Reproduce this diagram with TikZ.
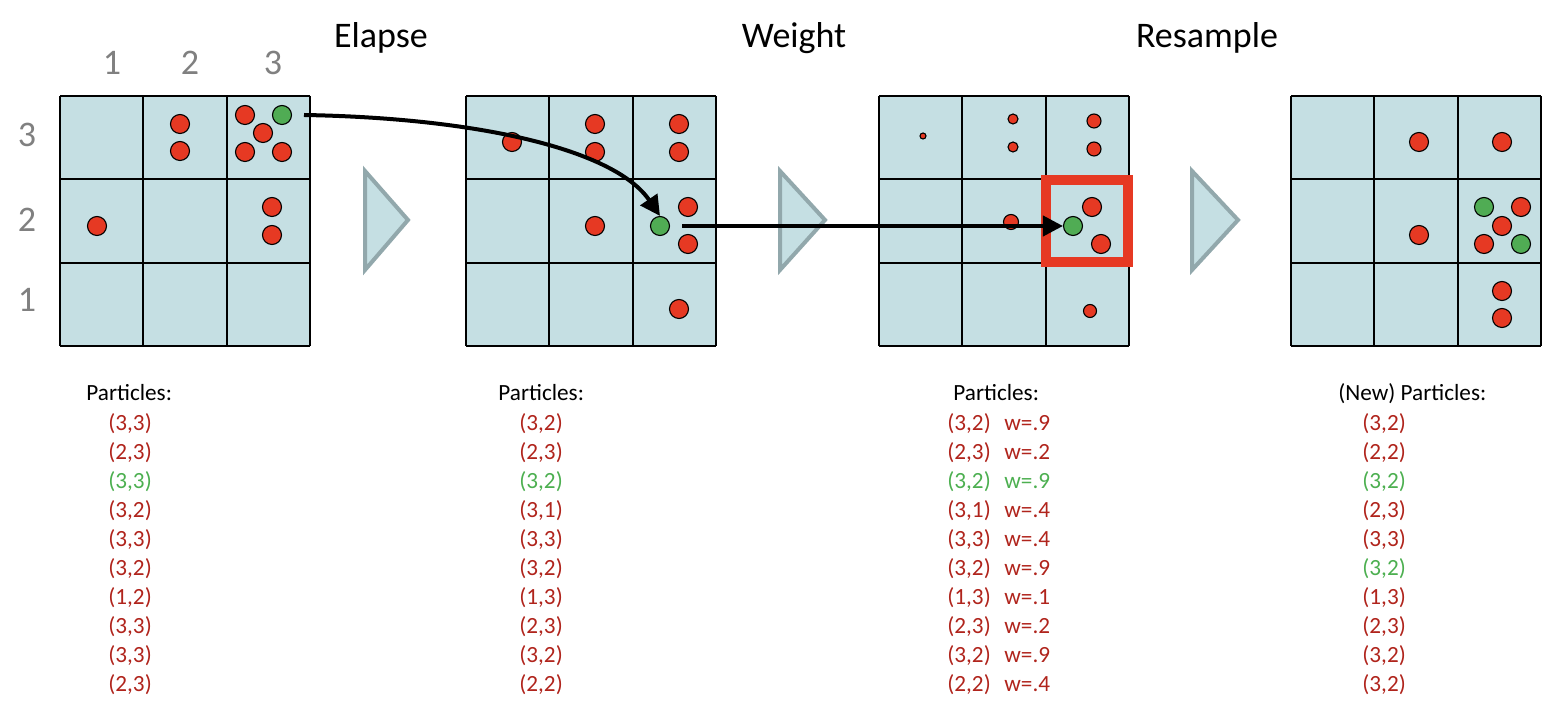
\documentclass[tikz,border=0pt]{standalone}
\usepackage{fontspec}
\setmainfont{Carlito}
\usetikzlibrary{arrows.meta}
\definecolor{cellfill}{RGB}{197,223,227}
\definecolor{pred}{RGB}{230,57,35}
\definecolor{pgreen}{RGB}{80,172,84}
\definecolor{tred}{RGB}{176,36,28}
\definecolor{tgreen}{RGB}{76,175,80}
\definecolor{tristroke}{RGB}{146,168,172}
\definecolor{lblgray}{RGB}{128,128,128}
\begin{document}
\begin{tikzpicture}[x=0.5pt,y=-0.5pt,
  cellline/.style={line width=0.95pt,draw=black},
  rp/.style={circle,draw=black,line width=0.55pt,fill=pred,inner sep=0pt,minimum size=#1},
  rp/.default=9.5pt,
  gp/.style={circle,draw=black,line width=0.55pt,fill=pgreen,inner sep=0pt,minimum size=9.5pt},
  tri/.style={fill=cellfill,draw=tristroke,line width=2pt,line join=miter},
  title/.style={font=\fontsize{18}{20}\selectfont,anchor=base},
  axlbl/.style={font=\fontsize{18}{20}\selectfont,text=lblgray,anchor=base},
  txt/.style={font=\fontsize{11.6}{13}\selectfont,anchor=base west,inner sep=0pt},
  move/.style={line width=2pt,-{Triangle[length=10pt,width=10pt]}},
]
\useasboundingbox (0,0) rectangle (1560,710);

% grids
\foreach \gx in {60,466,879,1291}{
  \fill[cellfill] (\gx,96) rectangle ++(250,250);
  \foreach \k in {0,1,2,3}{
    \draw[cellline] ({\gx+\k*250/3},96) -- ({\gx+\k*250/3},346);
    \draw[cellline] (\gx,{96+\k*250/3}) -- ({\gx+250},{96+\k*250/3});
  }
}

% axis labels
\node[axlbl] (c1) at (112,75) {1};
\node[axlbl] (c2) at (190,75) {2};
\node[axlbl] (c3) at (273,75) {3};
\node[axlbl] (r3) at (27,147) {3};
\node[axlbl] (r2) at (27,232) {2};
\node[axlbl] (r1) at (27,312) {1};

% titles
\node[title] (tElapse) at (381,48) {Elapse};
\node[title] (tWeight) at (794,48) {Weight};
\node[title] (tResample) at (1207,48) {Resample};

% grid 1 particles
\foreach \px/\py [count=\i] in {180/124,180/151,245/115,263/133,245/152,282/152,272/207,272/235,97/226}
  \node[rp] (pa\i) at (\px,\py) {};
\node[gp] (g1) at (282,115) {};

% grid 2 particles
\foreach \px/\py [count=\i] in {512/142,595/124,595/152,679/124,679/152,688/207,688/244,595/226,679/309}
  \node[rp] (pb\i) at (\px,\py) {};
\node[gp] (g2) at (660,226) {};

% grid 3 particles (weighted)
\node[rp=3pt] (pc1) at (923,136) {};
\node[rp=5pt] (pc2) at (1013,119) {};
\node[rp=5pt] (pc3) at (1013,147) {};
\node[rp=7pt] (pc4) at (1094,121) {};
\node[rp=7pt] (pc5) at (1094,149) {};
\node[rp] (pc6) at (1092,207) {};
\node[rp] (pc7) at (1101,244) {};
\node[rp=7.5pt] (pc8) at (1011,222) {};
\node[rp=6.5pt] (pc9) at (1090,311) {};
\node[gp] (g3) at (1073,226) {};

% grid 4 particles
\foreach \px/\py [count=\i] in {1419/142,1502/142,1419/235,1521/207,1502/226,1484/244,1502/291,1502/318}
  \node[rp] (pd\i) at (\px,\py) {};
\node[gp] (g4a) at (1484,207) {};
\node[gp] (g4b) at (1521,244) {};

% step triangles
\draw[tri] (365,171) -- (408,220) -- (365,270) -- cycle;
\draw[tri] (780,171) -- (825,220) -- (780,270) -- cycle;
\draw[tri] (1192,171) -- (1238,220) -- (1192,270) -- cycle;

% highlight box
\draw[pred,line width=5pt] (1046,180) rectangle (1128,262);

% arrows
\coordinate (a1s) at (304,115);
\coordinate (a2s) at (682,226);
\draw[move] (a1s) .. controls (480,118) and (615,150) .. (g2.north);
\draw[move] (a2s) -- (g3.west);

% lists
\node[txt] (h1) at (86,401) {Particles:};
\foreach \a/\b/\c [count=\i from 0] in {3/3/tred,2/3/tred,3/3/tgreen,3/2/tred,3/3/tred,3/2/tred,1/2/tred,3/3/tred,3/3/tred,2/3/tred}
  \node[txt,text=\c] (la\i) at (108,{431+29*\i}) {(\a,\b)};

\node[txt] (h2) at (498,401) {Particles:};
\foreach \a/\b/\c [count=\i from 0] in {3/2/tred,2/3/tred,3/2/tgreen,3/1/tred,3/3/tred,3/2/tred,1/3/tred,2/3/tred,3/2/tred,2/2/tred}
  \node[txt,text=\c] (lb\i) at (519,{431+29*\i}) {(\a,\b)};

\node[txt] (h3) at (953,401) {Particles:};
\foreach \a/\b/\w/\c [count=\i from 0] in {3/2/9/tred,2/3/2/tred,3/2/9/tgreen,3/1/4/tred,3/3/4/tred,3/2/9/tred,1/3/1/tred,2/3/2/tred,3/2/9/tred,2/2/4/tred}{
  \node[txt,text=\c] (lc\i) at (947,{431+29*\i}) {(\a,\b)};
  \node[txt,text=\c] (wc\i) at (1004,{431+29*\i}) {w=.\w};
}

\node[txt] (h4) at (1338,401) {(New) Particles:};
\foreach \a/\b/\c [count=\i from 0] in {3/2/tred,2/2/tred,3/2/tgreen,2/3/tred,3/3/tred,3/2/tgreen,1/3/tred,2/3/tred,3/2/tred,3/2/tred}
  \node[txt,text=\c] (ld\i) at (1362,{431+29*\i}) {(\a,\b)};
\end{tikzpicture}
\end{document}
